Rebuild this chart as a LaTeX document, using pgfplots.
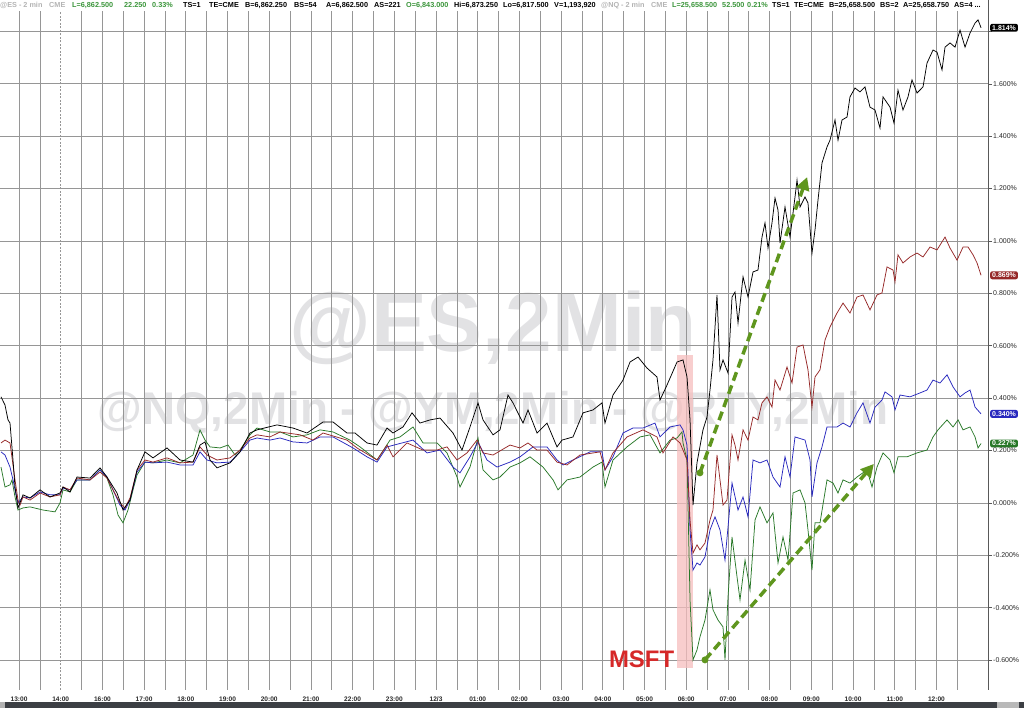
\documentclass[border=0pt]{standalone}
\usepackage{pgfplots}
\pgfplotsset{compat=1.18}
\usepackage{fontspec}
\setmainfont{Liberation Sans}
\usetikzlibrary{arrows.meta}
\definecolor{gridc}{RGB}{150,150,150}
\definecolor{wm}{RGB}{226,226,228}
\definecolor{ser1}{RGB}{0,0,0}
\definecolor{ser2}{RGB}{150,40,40}
\definecolor{ser3}{RGB}{40,40,190}
\definecolor{ser4}{RGB}{40,120,40}
\definecolor{hdrgreen}{RGB}{60,150,60}
\definecolor{hdrgray}{RGB}{180,180,180}
\definecolor{arrowg}{RGB}{95,150,30}
\definecolor{msft}{RGB}{214,40,40}
\definecolor{band}{RGB}{245,190,190}
\definecolor{barc}{RGB}{60,63,68}
\definecolor{lbl}{RGB}{40,40,40}
\tikzset{badge/.style={anchor=west, fill=#1, text=white, rounded corners=2bp, inner xsep=2bp, inner ysep=1.5bp, font=\bfseries\fontsize{7}{7}\selectfont, xshift=2bp}}
\begin{document}
\begin{tikzpicture}[x=1bp,y=1bp]
\useasboundingbox (0,0) rectangle (1024,708);
% watermarks
\node[anchor=base, text=wm, font=\bfseries\fontsize{84}{84}\selectfont, inner sep=0] at (493,356) {@ES,2Min};
\node[anchor=base, text=wm, font=\bfseries\fontsize{46}{46}\selectfont, inner sep=0] at (493,283) {@NQ,2Min - @YM,2Min - @RTY,2Min};
\begin{axis}[
  at={(0bp,18bp)}, anchor=south west,
  width=988bp, height=690bp, scale only axis,
  xmin=-0.456, xmax=23.237, ymin=-0.714, ymax=1.920,
  clip=false,
  axis x line*=bottom, axis y line*=right,
  x axis line style={draw=none},
  y axis line style={draw=gray!70!black, line width=0.8bp, -},
  xtick={0,...,22},
  xticklabels={13:00,14:00,16:00,17:00,18:00,19:00,20:00,21:00,22:00,23:00,12/3,01:00,02:00,03:00,04:00,05:00,06:00,07:00,08:00,09:00,10:00,11:00,12:00},
  minor xtick={0.5,1.5,...,22.5},
  xtick style={draw=none}, minor tick style={draw=none},
  ytick={-0.6,-0.4,-0.2,0,0.2,0.4,0.6,0.8,1.0,1.2,1.4,1.6,1.8},
  yticklabels={-0.600\%,-0.400\%,-0.200\%,0.000\%,0.200\%,0.400\%,0.600\%,0.800\%,1.000\%,1.200\%,1.400\%,1.600\%,{}},
  ytick style={draw=gray!70!black, line width=0.6bp},
  tick align=outside, major tick length=4bp,
  grid=both,
  major grid style={draw=gridc, line width=0.7bp},
  minor grid style={draw=gridc, line width=0.7bp},
  xticklabel style={font=\bfseries\fontsize{6.6}{6.6}\selectfont, text=lbl, inner sep=0pt, yshift=-2.5bp},
  yticklabel style={font=\fontsize{7}{7}\selectfont, text=lbl, inner sep=1pt},
]
% session break dashed line
\draw[white, line width=1.2bp] (axis cs:1,-0.714) -- (axis cs:1,1.920);
\draw[gridc, line width=0.7bp, dash pattern=on 2bp off 1.5bp] (axis cs:1,-0.714) -- (axis cs:1,1.920);
% MSFT band
\fill[band, opacity=0.75] (axis cs:15.78,0.565) rectangle (axis cs:16.16,-0.630);

% green
\addplot[ser4, line width=0.75bp] coordinates {
(-0.432,0.137)(-0.336,0.061)(-0.216,0.069)(-0.168,0.088)(-0.096,0.023)(-0.024,-0.027)(0.096,-0.019)(0.264,-0.015)(0.576,-0.027)(0.863,-0.034)(0.983,0.000)(1.055,0.050)(1.223,0.042)(1.391,0.088)(1.703,0.088)(1.942,0.126)(2.110,0.095)(2.254,0.031)(2.374,-0.046)(2.494,-0.076)(2.614,-0.027)(2.734,0.050)(2.830,0.107)(3.021,0.156)(3.213,0.153)(3.549,0.164)(3.861,0.153)(4.173,0.183)(4.340,0.279)(4.460,0.240)(4.580,0.214)(4.820,0.210)(5.012,0.221)(5.180,0.183)(5.300,0.202)(5.539,0.260)(5.707,0.286)(6.019,0.271)(6.259,0.271)(6.571,0.252)(6.906,0.260)(7.218,0.279)(7.530,0.271)(7.937,0.240)(8.177,0.214)(8.585,0.164)(8.897,0.240)(9.137,0.252)(9.448,0.290)(9.688,0.229)(10.024,0.229)(10.264,0.191)(10.503,0.099)(10.575,0.061)(10.815,0.137)(11.007,0.248)(11.127,0.126)(11.367,0.088)(11.534,0.099)(11.774,0.137)(12.014,0.153)(12.254,0.176)(12.566,0.137)(12.806,0.088)(12.925,0.050)(13.141,0.088)(13.453,0.099)(13.764,0.137)(13.980,0.156)(14.052,0.061)(14.244,0.164)(14.580,0.214)(14.892,0.252)(15.132,0.260)(15.371,0.191)(15.611,0.240)(15.779,0.248)(15.899,0.271)(15.923,0.229)(16.019,0.164)(16.091,-0.370)(16.163,-0.599)(16.258,-0.561)(16.330,-0.511)(16.450,-0.447)(16.570,-0.332)(16.642,-0.408)(16.762,-0.447)(16.882,-0.473)(16.930,-0.599)(17.002,-0.359)(17.098,-0.130)(17.218,-0.282)(17.290,-0.370)(17.410,-0.218)(17.530,-0.332)(17.650,-0.065)(17.769,-0.015)(17.937,-0.076)(18.081,-0.038)(18.201,-0.229)(18.321,-0.130)(18.441,-0.218)(18.561,0.038)(18.729,0.050)(18.849,0.000)(18.920,-0.103)(19.016,-0.256)(19.088,-0.076)(19.208,-0.076)(19.376,0.088)(19.520,0.076)(19.640,0.038)(19.760,0.088)(19.927,0.076)(20.095,0.099)(20.335,0.126)(20.455,0.061)(20.575,0.137)(20.719,0.191)(20.887,0.164)(20.983,0.115)(21.078,0.176)(21.294,0.176)(21.534,0.191)(21.774,0.202)(21.918,0.252)(22.038,0.279)(22.254,0.317)(22.398,0.290)(22.518,0.317)(22.638,0.279)(22.806,0.290)(22.926,0.252)(22.998,0.210)(23.070,0.227)
};
% blue
\addplot[ser3, line width=0.75bp] coordinates {
(-0.432,0.195)(-0.336,0.183)(-0.216,0.137)(-0.144,0.088)(-0.096,0.050)(-0.024,0.000)(0.096,0.023)(0.264,0.019)(0.504,0.042)(0.743,0.031)(0.983,0.031)(1.055,0.057)(1.223,0.050)(1.391,0.088)(1.703,0.088)(1.942,0.126)(2.110,0.099)(2.254,0.050)(2.422,-0.008)(2.542,-0.027)(2.662,0.011)(2.830,0.118)(3.021,0.156)(3.213,0.153)(3.549,0.156)(3.861,0.145)(4.173,0.145)(4.340,0.195)(4.508,0.164)(4.748,0.153)(5.060,0.156)(5.300,0.195)(5.539,0.240)(5.707,0.248)(6.019,0.240)(6.259,0.248)(6.571,0.233)(6.906,0.229)(7.218,0.252)(7.530,0.252)(8.009,0.210)(8.345,0.176)(8.585,0.156)(8.825,0.214)(9.448,0.240)(9.784,0.191)(10.096,0.202)(10.407,0.137)(10.575,0.115)(10.815,0.176)(11.007,0.233)(11.223,0.164)(11.463,0.137)(11.774,0.156)(12.014,0.176)(12.326,0.214)(12.661,0.214)(12.901,0.164)(13.045,0.145)(13.285,0.164)(13.693,0.195)(13.980,0.195)(14.052,0.126)(14.244,0.176)(14.484,0.267)(14.724,0.286)(14.964,0.286)(15.251,0.305)(15.371,0.252)(15.611,0.290)(15.851,0.298)(15.923,0.279)(16.019,0.221)(16.091,-0.103)(16.163,-0.256)(16.258,-0.229)(16.330,-0.237)(16.450,-0.206)(16.570,-0.103)(16.690,-0.053)(16.810,-0.103)(16.930,-0.218)(17.098,0.076)(17.242,-0.027)(17.362,0.023)(17.482,-0.053)(17.602,0.164)(17.769,0.153)(17.937,0.164)(18.081,0.099)(18.249,0.061)(18.369,0.176)(18.489,0.099)(18.609,0.252)(18.849,0.240)(18.969,0.164)(19.016,0.023)(19.136,0.153)(19.256,0.214)(19.376,0.290)(19.616,0.290)(19.760,0.305)(19.927,0.290)(20.095,0.344)(20.239,0.382)(20.407,0.305)(20.527,0.366)(20.695,0.393)(20.767,0.424)(20.935,0.405)(21.007,0.355)(21.127,0.412)(21.366,0.405)(21.606,0.420)(21.774,0.431)(21.918,0.469)(22.086,0.458)(22.254,0.489)(22.398,0.443)(22.566,0.405)(22.686,0.420)(22.806,0.431)(22.926,0.366)(23.070,0.340)
};
% red
\addplot[ser2, line width=0.75bp] coordinates {
(-0.432,0.229)(-0.336,0.240)(-0.216,0.229)(-0.144,0.145)(-0.096,0.088)(-0.024,0.011)(0.024,-0.008)(0.096,0.023)(0.264,0.011)(0.504,0.038)(0.743,0.023)(0.983,0.031)(1.055,0.061)(1.223,0.050)(1.391,0.095)(1.703,0.088)(1.942,0.118)(2.110,0.095)(2.254,0.050)(2.422,0.000)(2.542,-0.019)(2.662,0.019)(2.830,0.126)(3.021,0.164)(3.213,0.156)(3.549,0.172)(3.861,0.153)(4.173,0.156)(4.340,0.214)(4.508,0.183)(4.748,0.164)(5.060,0.172)(5.300,0.202)(5.539,0.248)(5.707,0.260)(6.019,0.252)(6.259,0.271)(6.739,0.260)(7.050,0.240)(7.290,0.267)(7.865,0.240)(8.105,0.210)(8.585,0.164)(8.825,0.221)(8.968,0.176)(9.304,0.229)(9.688,0.202)(10.024,0.202)(10.264,0.214)(10.503,0.164)(10.743,0.191)(10.983,0.240)(11.127,0.191)(11.367,0.183)(11.774,0.221)(12.014,0.210)(12.206,0.229)(12.422,0.202)(12.661,0.202)(12.901,0.156)(13.141,0.145)(13.453,0.183)(13.933,0.195)(14.052,0.126)(14.244,0.191)(14.580,0.252)(14.964,0.279)(15.299,0.252)(15.443,0.191)(15.683,0.252)(15.851,0.229)(15.923,0.202)(16.019,0.164)(16.091,-0.065)(16.163,-0.191)(16.258,-0.160)(16.330,-0.179)(16.450,-0.153)(16.570,-0.065)(16.642,-0.027)(16.738,0.183)(16.810,0.088)(16.882,-0.008)(16.978,0.011)(17.098,0.260)(17.170,0.221)(17.242,0.164)(17.362,0.279)(17.482,0.240)(17.602,0.328)(17.721,0.317)(17.817,0.382)(17.937,0.405)(18.057,0.366)(18.129,0.469)(18.249,0.431)(18.417,0.519)(18.537,0.458)(18.657,0.595)(18.801,0.603)(18.920,0.508)(19.016,0.366)(19.088,0.481)(19.208,0.508)(19.328,0.622)(19.448,0.672)(19.616,0.725)(19.760,0.763)(19.927,0.725)(20.095,0.786)(20.239,0.794)(20.407,0.737)(20.575,0.794)(20.695,0.802)(20.815,0.901)(20.959,0.889)(21.007,0.844)(21.078,0.947)(21.198,0.916)(21.366,0.939)(21.534,0.954)(21.678,0.939)(21.846,0.977)(22.014,0.966)(22.206,1.015)(22.326,0.973)(22.494,0.927)(22.638,0.977)(22.758,0.977)(22.878,0.947)(22.974,0.916)(23.070,0.869)
};
% black
\addplot[ser1, line width=0.75bp] coordinates {
(-0.432,0.405)(-0.336,0.374)(-0.264,0.317)(-0.216,0.305)(-0.144,0.164)(-0.096,0.061)(-0.024,-0.019)(0.096,0.031)(0.264,0.019)(0.504,0.050)(0.743,0.023)(0.983,0.038)(1.055,0.061)(1.223,0.042)(1.391,0.099)(1.703,0.095)(1.942,0.134)(2.110,0.099)(2.350,0.038)(2.494,-0.027)(2.662,0.011)(2.830,0.126)(3.021,0.195)(3.213,0.172)(3.549,0.210)(3.861,0.164)(4.173,0.156)(4.340,0.221)(4.460,0.233)(4.580,0.164)(4.748,0.134)(5.060,0.153)(5.300,0.195)(5.539,0.267)(5.707,0.279)(6.187,0.298)(6.571,0.286)(6.906,0.267)(7.290,0.309)(7.530,0.309)(7.865,0.267)(8.057,0.267)(8.345,0.229)(8.585,0.221)(8.825,0.286)(8.968,0.267)(9.208,0.290)(9.424,0.344)(9.616,0.305)(9.856,0.317)(10.096,0.324)(10.407,0.267)(10.623,0.202)(10.815,0.290)(11.007,0.382)(11.127,0.317)(11.367,0.260)(11.534,0.279)(11.726,0.412)(11.846,0.382)(12.086,0.305)(12.206,0.355)(12.422,0.267)(12.661,0.305)(12.901,0.214)(13.021,0.240)(13.285,0.252)(13.525,0.344)(13.764,0.355)(13.980,0.382)(14.052,0.305)(14.244,0.412)(14.484,0.469)(14.652,0.538)(14.844,0.557)(15.059,0.515)(15.299,0.481)(15.371,0.393)(15.539,0.450)(15.779,0.538)(15.923,0.546)(16.019,0.481)(16.091,0.317)(16.163,-0.008)(16.258,0.153)(16.402,0.279)(16.498,0.328)(16.570,0.431)(16.642,0.546)(16.738,0.794)(16.810,0.508)(16.882,0.546)(17.002,0.496)(17.098,0.786)(17.170,0.805)(17.242,0.687)(17.362,0.863)(17.482,0.786)(17.602,0.882)(17.721,0.889)(17.817,1.015)(17.889,1.069)(17.961,0.973)(18.057,1.069)(18.129,1.164)(18.201,1.118)(18.249,0.992)(18.369,1.130)(18.489,1.015)(18.609,1.168)(18.657,1.233)(18.729,1.130)(18.849,1.168)(18.920,1.145)(19.016,0.954)(19.088,1.042)(19.160,1.156)(19.256,1.298)(19.376,1.359)(19.448,1.385)(19.568,1.462)(19.640,1.385)(19.736,1.462)(19.856,1.473)(19.927,1.550)(20.047,1.584)(20.167,1.569)(20.287,1.588)(20.407,1.511)(20.527,1.500)(20.647,1.431)(20.719,1.550)(20.887,1.511)(20.983,1.450)(21.078,1.576)(21.198,1.500)(21.318,1.550)(21.414,1.615)(21.534,1.565)(21.678,1.588)(21.774,1.679)(21.918,1.729)(22.014,1.721)(22.134,1.653)(22.206,1.740)(22.326,1.756)(22.446,1.740)(22.566,1.805)(22.686,1.740)(22.806,1.794)(22.926,1.832)(22.998,1.844)(23.070,1.814)
};

% annotation arrows
\draw[arrowg, line width=3.5bp, dash pattern=on 9bp off 5bp, -{Triangle[length=13bp,width=13bp]}] (axis cs:16.33,0.115) -- (axis cs:18.90,1.244);
\fill[arrowg] (axis cs:16.33,0.115) circle[radius=3.5bp];
\draw[arrowg, line width=3.5bp, dash pattern=on 9bp off 5bp, -{Triangle[length=13bp,width=13bp]}] (axis cs:16.45,-0.599) -- (axis cs:20.50,0.149);
\fill[arrowg] (axis cs:16.45,-0.599) circle[radius=3.5bp];
\node[anchor=base, text=msft, font=\bfseries\fontsize{24}{24}\selectfont, inner sep=0] at (axis cs:14.93,-0.630) {MSFT};

% last-value badges
\node[badge=ser1] at (axis cs:23.237,1.814) {1.814\%};
\node[badge=ser2] at (axis cs:23.237,0.869) {0.869\%};
\node[badge=ser3] at (axis cs:23.237,0.340) {0.340\%};
\node[badge=ser4] at (axis cs:23.237,0.227) {0.227\%};
\end{axis}
% header strip
\fill[white] (0,697) rectangle (987,708);
\begin{scope}[every node/.style={anchor=base west, inner sep=0, font=\bfseries\fontsize{7.3}{7.3}\selectfont}]
\node[text=hdrgray] at (0,700) {@ES - 2 min};
\node[text=hdrgray] at (49,700) {CME};
\node[text=hdrgreen] at (72,700) {L=6,862.500};
\node[text=hdrgreen] at (124,700) {22.250};
\node[text=hdrgreen] at (152,700) {0.33\%};
\node at (183,700) {TS=1};
\node at (209,700) {TE=CME};
\node at (245,700) {B=6,862.250};
\node at (294,700) {BS=54};
\node at (326,700) {A=6,862.500};
\node at (374,700) {AS=221};
\node[text=hdrgreen] at (406,700) {O=6,843.000};
\node at (454,700) {Hi=6,873.250};
\node at (503,700) {Lo=6,817.500};
\node at (554,700) {V=1,193,920};
\node[text=hdrgray] at (601,700) {@NQ - 2 min};
\node[text=hdrgray] at (651,700) {CME};
\node[text=hdrgreen] at (672,700) {L=25,658.500};
\node[text=hdrgreen] at (722,700) {52.500};
\node[text=hdrgreen] at (747,700) {0.21\%};
\node at (772,700) {TS=1};
\node at (794,700) {TE=CME};
\node at (829,700) {B=25,658.500};
\node at (880,700) {BS=2};
\node at (903,700) {A=25,658.750};
\node at (954,700) {AS=4 ...};
\end{scope}
% bottom bar
\fill[barc] (0,0) rectangle (1024,6.3);
\fill[gray!60] (0,0) rectangle (5,6.3);
\fill[gray!55] (997,0) rectangle (1019,6.3);
\end{tikzpicture}
\end{document}
